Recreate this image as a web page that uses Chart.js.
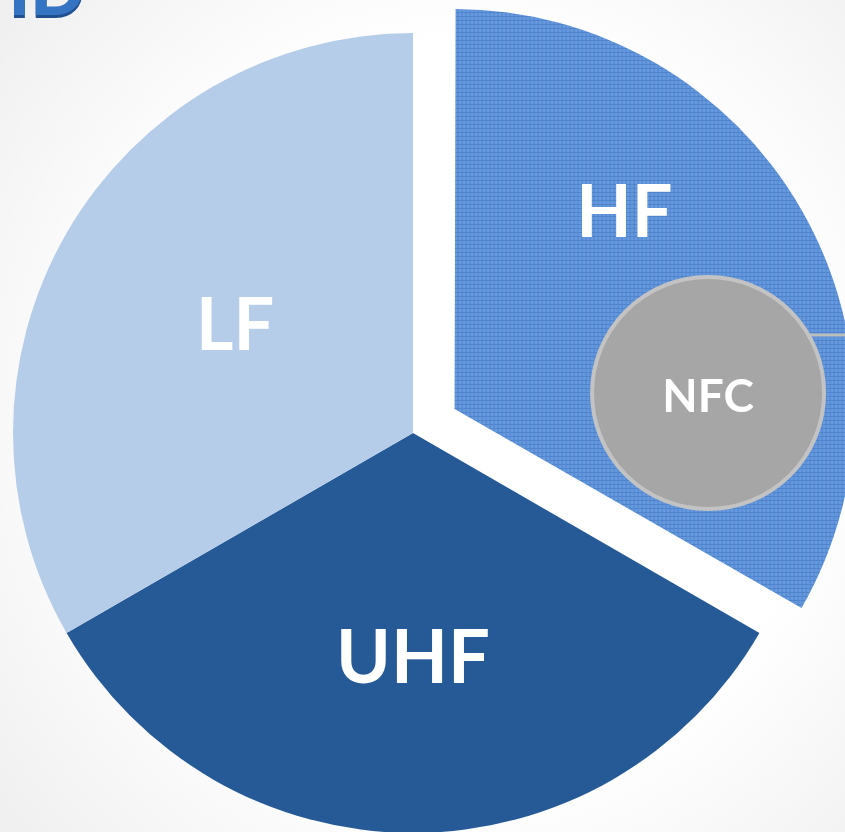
<!DOCTYPE html>
<html>
<head>
<meta charset="utf-8">
<script src="https://cdn.jsdelivr.net/npm/chart.js@4/dist/chart.umd.min.js"></script>
<style>
  html, body { margin: 0; padding: 0; width: 845px; height: 832px; overflow: hidden; }
  body { position: relative; background: radial-gradient(ellipse 70% 75% at 55% 50%, #ffffff 60%, #f0f0f0 100%); }
  #logo { position: absolute; right: 760px; top: -49px; font: 900 72px Lato, sans-serif; line-height: 72px;
          color: #3474c2; text-shadow: 0 3px 0 #1f4f8f; white-space: nowrap; }
  #c { position: absolute; left: 0; top: 0; }
</style>
</head>
<body>
<div id="logo">RFID</div>
<canvas id="c" width="845" height="832"></canvas>
<script>
// ---- data ----
const categories = ['HF', 'UHF', 'LF'];
const values = [1, 1, 1];
const explodedCategory = 'HF';
const subCategory = 'NFC';
const subParent = 'HF';

// ---- styles ----
function hfPattern() {
  const p = document.createElement('canvas');
  p.width = 4; p.height = 4;
  const g = p.getContext('2d');
  g.fillStyle = '#6699de'; g.fillRect(0, 0, 4, 4);
  g.fillStyle = '#5085ce'; g.fillRect(0, 0, 4, 1); g.fillRect(0, 0, 1, 4);
  return g.createPattern(p, 'repeat');
}
const sliceColors = { HF: hfPattern(), UHF: '#265a97', LF: '#b5cde9' };
const EXPLODE = 48;        // px shift of exploded slice
const RADIUS = 400;
// label placement: t = fraction along arc angle, r = fraction of radius
const labelPlace = { HF: { t: 0.34, r: 0.65, size: 72 }, UHF: { t: 0.5, r: 0.56, size: 74 }, LF: { t: 0.51, r: 0.52, size: 72 } };
const subPlace = { t: 0.72, r: 0.635, size: 0.29, font: 46 };

const overlayPlugin = {
  id: 'overlay',
  afterDatasetsUpdate(chart) {
    // compensate Chart.js radius growth of offset arcs so all slices share one radius
    const meta = chart.getDatasetMeta(0);
    meta.data.forEach((arc, i) => {
      if (categories[i] === explodedCategory) {
        const fix = 1 - Math.sin(Math.min(Math.PI, arc.circumference));
        arc.outerRadius = RADIUS - EXPLODE * fix;
      }
    });
  },
  afterDatasetsDraw(chart) {
    const ctx = chart.ctx;
    const meta = chart.getDatasetMeta(0);
    ctx.save();
    ctx.textAlign = 'center';
    ctx.textBaseline = 'middle';
    meta.data.forEach((arc, i) => {
      const cat = categories[i];
      const half = (arc.startAngle + arc.endAngle) / 2;
      const shift = cat === explodedCategory ? EXPLODE : 0;
      const cx = arc.x + Math.cos(half) * shift;
      const cy = arc.y + Math.sin(half) * shift;
      const pl = labelPlace[cat];
      const a = arc.startAngle + pl.t * (arc.endAngle - arc.startAngle);
      ctx.fillStyle = '#ffffff';
      ctx.font = 'bold ' + pl.size + 'px Lato, "Open Sans", sans-serif';
      ctx.fillText(cat, cx + Math.cos(a) * pl.r * RADIUS, cy + Math.sin(a) * pl.r * RADIUS + 2);

      if (cat === subParent) {
        const sa = arc.startAngle + subPlace.t * (arc.endAngle - arc.startAngle);
        const sx = cx + Math.cos(sa) * subPlace.r * RADIUS;
        const sy = cy + Math.sin(sa) * subPlace.r * RADIUS;
        const sr = subPlace.size * RADIUS;
        // connector line
        const la = -Math.PI / 6;
        ctx.strokeStyle = '#bdbdbd';
        ctx.lineWidth = 3;
        ctx.beginPath();
        ctx.moveTo(sx + Math.cos(la) * sr, sy + Math.sin(la) * sr);
        ctx.lineTo(chart.width, sy + Math.sin(la) * sr);
        ctx.stroke();
        // circle
        ctx.beginPath();
        ctx.arc(sx, sy, sr, 0, Math.PI * 2);
        ctx.fillStyle = '#a6a6a6';
        ctx.fill();
        ctx.lineWidth = 4;
        ctx.strokeStyle = '#c3c3c3';
        ctx.stroke();
        ctx.fillStyle = '#ffffff';
        ctx.font = 'bold ' + subPlace.font + 'px Lato, "Open Sans", sans-serif';
        ctx.fillText(subCategory, sx, sy + 4);
      }
    });
    ctx.restore();
  }
};

new Chart(document.getElementById('c'), {
  type: 'pie',
  data: {
    labels: categories,
    datasets: [{
      data: values,
      backgroundColor: categories.map(c => sliceColors[c]),
      borderWidth: 0,
      offset: categories.map(c => c === explodedCategory ? EXPLODE * 4 : 0),
      hoverOffset: 0,
      clip: false
    }]
  },
  options: {
    responsive: false,
    animation: false,
    events: [],
    radius: RADIUS,
    layout: { padding: { left: 0, right: 19, top: 34, bottom: 0 } },
    plugins: { legend: { display: false }, tooltip: { enabled: false } }
  },
  plugins: [overlayPlugin]
});
</script>
</body>
</html>
